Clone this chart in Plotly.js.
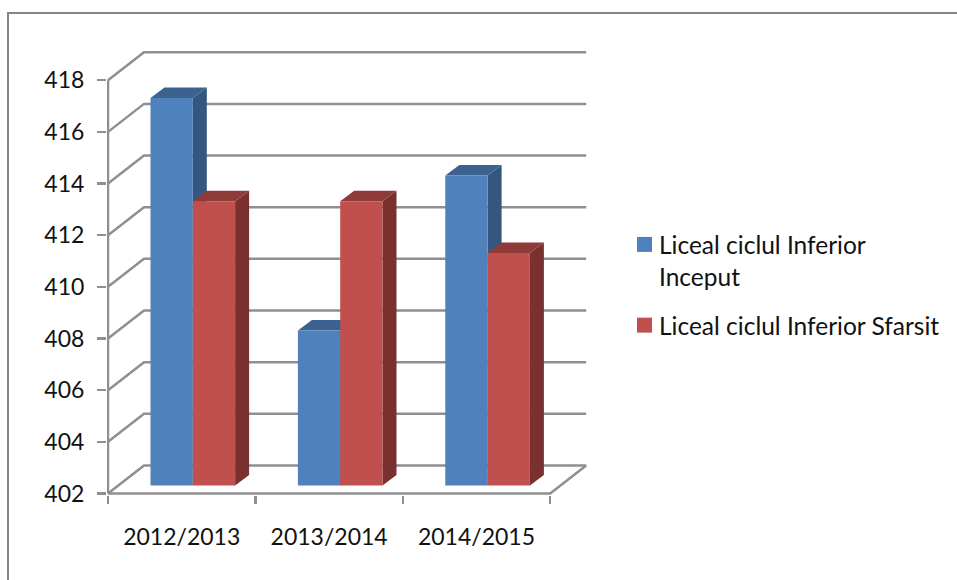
<!DOCTYPE html>
<html>
<head>
<meta charset="utf-8">
<script src="https://cdn.plot.ly/plotly-3.0.1.min.js"></script>
<style>html,body{margin:0;padding:0;background:#fff}#chart{width:957px;height:580px}</style>
</head>
<body>
<div id="chart"></div>
<script>
const categories = ['2012/2013', '2013/2014', '2014/2015'];
const inceput = [417, 408, 414];
const sfarsit = [413, 413, 411];
const seriesNames = ['Liceal ciclul Inferior<br>Inceput', 'Liceal ciclul Inferior Sfarsit'];
const yTicks = [402, 404, 406, 408, 410, 412, 414, 416, 418];
const categoryPositions = [0, 1, 2];
const categoryEdges = [-0.5, 0.5, 1.5, 2.5];

const W = 957, H = 580;
const AXIS = '#8f8f8f';
const FONT = 'Lato, "Open Sans", sans-serif';
const BASE = 402;
// 3-D projection, in axis units
const WALL_DX = 0.2442, WALL_DY = 1.084;
const BAR_DX = 0.095, BAR_DY = 0.4065;
const BAR_W = 0.2870, LIFT = 0.31;
const OFFSET_BLUE = -0.2117, OFFSET_RED = 0.0753;

const shapes = [];
function poly(pts, fill) {
  const path = 'M' + pts.map(p => p[0] + ',' + p[1]).join('L') + 'Z';
  shapes.push({type: 'path', xref: 'x', yref: 'y', layer: 'below', path, fillcolor: fill, line: {width: 0}});
}
function line(pts) {
  const path = 'M' + pts.map(p => p[0] + ',' + p[1]).join('L');
  shapes.push({type: 'path', xref: 'x', yref: 'y', layer: 'below', path, line: {color: AXIS, width: 2.5}});
}
const left = categoryEdges[0], right = categoryEdges[categoryEdges.length - 1];
yTicks.forEach(v => line([[left, v], [left + WALL_DX, v + WALL_DY], [right + WALL_DX, v + WALL_DY]]));
line([[left, BASE], [right, BASE], [right + WALL_DX, BASE + WALL_DY]]);
line([[left, BASE], [left, yTicks[yTicks.length - 1]]]);

function faces(values, offset, sideColor, topColor) {
  values.forEach((v, i) => {
    const x0 = categoryPositions[i] + offset, x1 = x0 + BAR_W, top = v + LIFT, bot = BASE + LIFT;
    poly([[x1, bot], [x1 + BAR_DX, bot + BAR_DY], [x1 + BAR_DX, top + BAR_DY], [x1, top]], sideColor);
    poly([[x0, top], [x0 + BAR_DX, top + BAR_DY], [x1 + BAR_DX, top + BAR_DY], [x1, top]], topColor);
  });
}
faces(inceput, OFFSET_BLUE, '#34567f', '#3c6290');
faces(sfarsit, OFFSET_RED, '#7a302e', '#8f3b39');

// Outer frame of the chart, open on the right and at the bottom
shapes.push({type: 'path', xref: 'paper', yref: 'paper', layer: 'below',
  path: `M${8 / W},0L${8 / W},${1 - 13 / H}L1,${1 - 13 / H}`, line: {color: '#868686', width: 2}});

function barTrace(name, values, color, group) {
  return {
    type: 'bar', name, legendgroup: group,
    x: categoryPositions,
    y: values.map(v => v - BASE),
    base: values.map(() => BASE + LIFT),
    offset: name === seriesNames[0] ? OFFSET_BLUE : OFFSET_RED,
    width: BAR_W,
    marker: {color, line: {width: 0}},
    hoverinfo: 'skip'
  };
}
const data = [barTrace(seriesNames[0], inceput, '#4f81bd', 'a'), barTrace(seriesNames[1], sfarsit, '#c0504d', 'b')];

const layout = {
  width: W, height: H,
  margin: {l: 0, r: 0, t: 0, b: 0, pad: 0},
  paper_bgcolor: '#fff', plot_bgcolor: 'rgba(0,0,0,0)',
  barmode: 'overlay',
  font: {family: FONT, size: 23, color: '#111'},
  showlegend: true,
  legend: {x: 619 / W, y: 1 - 222 / H, xanchor: 'left', yanchor: 'top', bgcolor: 'rgba(0,0,0,0)', valign: 'top',
    font: {family: FONT, size: 24.5, color: '#111'}, traceorder: 'grouped', tracegroupgap: 14},
  xaxis: {
    domain: [107 / W, 588 / W], range: [-0.5068, 2.7565], showgrid: false, zeroline: false, showline: false,
    tickmode: 'array', tickvals: categoryPositions, ticktext: categories, ticks: '', ticklabelstandoff: 26,
    minor: {tickmode: 'array', tickvals: categoryEdges, ticks: 'outside', ticklen: 8, tickwidth: 2.5, tickcolor: AXIS, showgrid: false},
    fixedrange: true
  },
  yaxis: {
    domain: [(H - 495) / H, (H - 50) / H], range: [401.942, 419.17], showgrid: false, zeroline: false, showline: false,
    tickmode: 'array', tickvals: yTicks, ticktext: yTicks.map(String), ticks: 'outside', ticklen: 9, tickwidth: 2.5, tickcolor: AXIS,
    ticklabelstandoff: 8, fixedrange: true
  },
  shapes
};
Plotly.newPlot('chart', data, layout, {displayModeBar: false, staticPlot: true}).then(gd => {
  // Reference legend swatches are 15px squares, closer to the text than Plotly's default
  gd.querySelectorAll('.legend .legendpoints path').forEach(p => p.setAttribute('transform', 'translate(25.5,0) scale(1.25)'));
});
</script>
</body>
</html>
